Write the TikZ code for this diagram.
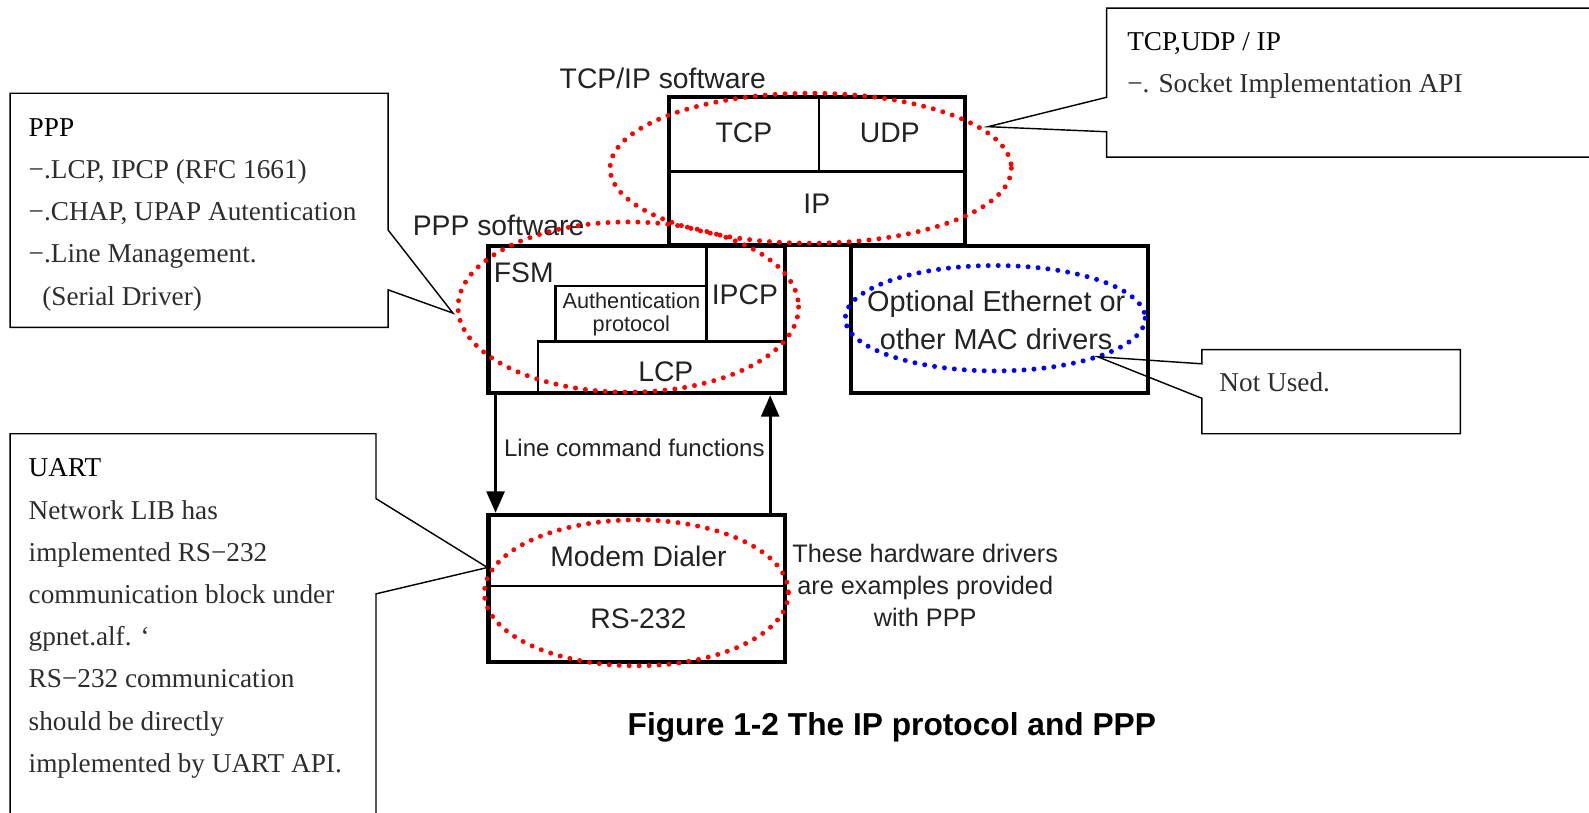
\documentclass[tikz,border=0pt]{standalone}
\usepackage{fontspec}
\setmainfont{Liberation Serif}
\setsansfont{Liberation Sans}
\usetikzlibrary{arrows.meta, positioning}
\definecolor{dotred}{RGB}{255,0,0}
\definecolor{dotblue}{RGB}{0,0,255}
\definecolor{lblgray}{RGB}{35,35,35}
\definecolor{notegray}{RGB}{45,45,45}
\tikzset{
  outerbox/.style={rectangle, draw=black, line width=2.3pt,
    minimum width=5.86cm, minimum height=2.9cm, inner sep=0pt},
  innerline/.style={line width=1.4pt},
  arr/.style={-{Triangle[width=10pt,length=12pt]}, line width=1.7pt},
  reddots/.style={draw=dotred, line width=2.8pt,
    dash pattern=on 0pt off 5.6pt, line cap=round},
  bluedots/.style={reddots, draw=dotblue},
  callout/.style={line width=0.8pt},
  notetext/.style={anchor=base west, align=left, inner sep=0pt, text=notegray,
    font=\fontsize{15.3}{23.7}\selectfont},
  lbl/.style={font=\sffamily\fontsize{15.9}{19}\selectfont, text=lblgray, inner sep=0pt}
}

\begin{document}
\begin{tikzpicture}[x=0.02cm, y=-0.02cm]
  \useasboundingbox (0,0) rectangle (1568,802);
  \fill[white] (0,0) rectangle (1568,802);

  % TCP/IP stack
  \node[lbl] (tcpipLbl) at (654,77) {TCP/IP software};
  \node[outerbox, minimum width=5.84cm, minimum height=2.92cm] (tcpip) at (806,169) {};
  \draw[innerline] (660,169) -- (952,169);
  \draw[innerline] (808,96) -- (808,169);
  \node[lbl] (tcp) at (734,131) {TCP};
  \node[lbl] (udp) at (878,131) {UDP};
  \node[lbl] (ip) at (806,201) {IP};

  % PPP software
  \node[lbl] (pppLbl) at (492,222) {PPP software};
  \node[outerbox] (ppp) at (628.5,315.5) {};
  \draw[innerline] (697,243) -- (697,337);
  \draw[innerline] (548,337) -- (548,282) -- (697,282);
  \draw[innerline] (531,388) -- (531,337) -- (775,337);
  \node[lbl, anchor=west] (fsm) at (487,269) {FSM};
  \node[lbl, align=center, font=\sffamily\fontsize{12.2}{13}\selectfont] (auth) at (623,310)
    {Authentication\\protocol};
  \node[lbl] (ipcp) at (735,291) {IPCP};
  \node[lbl] (lcp) at (657,367) {LCP};

  % MAC drivers
  \node[outerbox] (eth) at (986.5,315.5) {};
  \node[lbl, align=center, font=\sffamily\fontsize{16.2}{21}\selectfont] (ethLbl) at (983,316)
    {Optional Ethernet or\\other MAC drivers};

  % hardware drivers
  \node[outerbox] (modem) at (628.5,580.5) {};
  \draw[innerline] (482,578) -- (775,578);
  \node[lbl] (dialer) at (630,549) {Modem Dialer};
  \node[lbl] (rs) at (630,611) {RS-232};
  \node[lbl, align=center, font=\sffamily\fontsize{14.2}{17.9}\selectfont] (hwNote) at (913,578)
    {These hardware drivers\\are examples provided\\with PPP};

  % line commands
  \draw[arr] ([xshift=0.18cm]ppp.south west) -- ([xshift=0.18cm]modem.north west);
  \draw[arr] ([xshift=-0.34cm]modem.north east) -- ([xshift=-0.34cm]ppp.south east);
  \node[lbl, font=\sffamily\fontsize{13.5}{16}\selectfont] (lineCmd) at (626,442) {Line command functions};

  \node[font=\sffamily\bfseries\fontsize{17.8}{21}\selectfont, inner sep=0pt] (caption) at (880,718)
    {Figure 1-2 The IP protocol and PPP};

  % marked areas
  \draw[reddots] (800,166) ellipse [x radius=198, y radius=74];
  \draw[reddots] (620,303) ellipse [x radius=168, y radius=84];
  \draw[reddots] (628,585) ellipse [x radius=150, y radius=72];
  \draw[bluedots] (982,314) ellipse [x radius=148, y radius=52];

  % notes (base = last line)
  \coordinate (tcpTip) at (975,125);
  \draw[callout] (1092,96) -- (1092,8) -- (1580,8) -- (1580,155) -- (1092,155) -- (1092,130) -- (tcpTip) -- cycle;
  \node[notetext] (tcpNote) at (1112,91)
    {\textcolor{black}{TCP,UDP / IP}\\−. Socket Implementation API};

  \coordinate (pppTip) at (447,309);
  \draw[callout] (383,227) -- (383,92) -- (10,92) -- (10,323) -- (383,323) -- (383,286) -- (pppTip) -- cycle;
  \node[notetext] (pppNote) at (28,301)
    {\textcolor{black}{PPP}\\−.LCP, IPCP (RFC 1661)\\−.CHAP, UPAP Autentication\\−.Line Management.\\
     \ \ (Serial Driver)};

  \coordinate (uartTip) at (481,560);
  \draw[callout] (371,492) -- (371,428) -- (10,428) -- (10,820) -- (371,820) -- (371,586) -- (uartTip) -- cycle;
  \node[notetext] (uartNote) at (28,762)
    {\textcolor{black}{UART}\\Network LIB has\\implemented RS−232\\communication block under\\
     gpnet.alf. ‘\\RS−232 communication\\should be directly\\implemented by UART API.};

  \coordinate (notTip) at (1083,352);
  \draw[callout] (1186,359) -- (1186,345) -- (1441,345) -- (1441,428) -- (1186,428) -- (1186,393) -- (notTip) -- cycle;
  \node[notetext] (notNote) at (1203,386) {Not Used.};
\end{tikzpicture}
\end{document}
